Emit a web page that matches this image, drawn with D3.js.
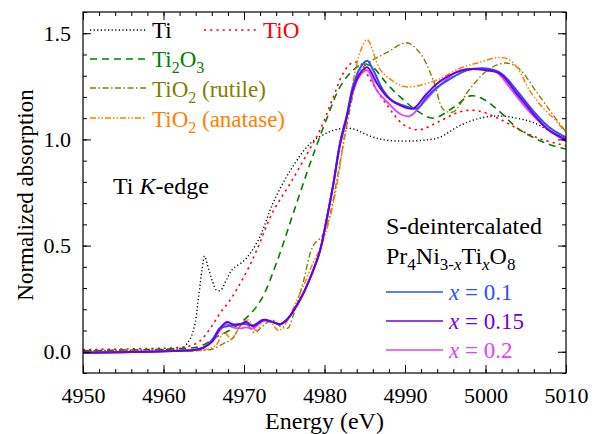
<!DOCTYPE html>
<html>
<head>
<meta charset="utf-8">
<script src="https://cdn.jsdelivr.net/npm/d3@7"></script>
<style>
body{margin:0;background:#fff}
</style>
</head>
<body>
<div id="chart"></div>
<script>
var w = 594, h = 434
var m = {l:83, r:28, t:12, b:61}
var serif = "'Liberation Serif', 'Times New Roman', Tinos, 'Nimbus Roman', FreeSerif, 'Noto Serif', 'DejaVu Serif', serif"

// Ti metal
var tiE = [4950,4958,4961,4962.4,4963.3,4963.9,4964.3,4964.8,4965.1,4965.6,4966.1,4966.6,4967.1,4967.9,4968.6,4969.9,4970.7,4971.4,4972.2,4973.6,4975.7,4978.2,4980.3,4981.9,4983.5,4985.7,4988,4991.9,4994.3,4996.8,4999.3,5001.8,5003.9,5005.9,5008,5010]
var tiA = [0.005,0.008,0.012,0.02,0.06,0.13,0.24,0.39,0.45,0.39,0.33,0.29,0.29,0.345,0.39,0.425,0.46,0.50,0.56,0.70,0.85,0.98,1.03,1.05,1.05,1.015,0.995,0.995,1.01,1.065,1.10,1.11,1.10,1.08,1.04,1.0]
// TiO
var tioE = [4950,4958,4962,4963.5,4964.5,4965.8,4967,4968.3,4969.5,4970.5,4971.6,4973.6,4975.7,4977.8,4979.4,4981.1,4982.3,4983.4,4984.4,4985.7,4987.8,4989.8,4991.7,4994,4996.8,4999,5001.8,5004.5,5007,5010]
var tioA = [0.01,0.015,0.02,0.03,0.05,0.11,0.18,0.245,0.32,0.39,0.48,0.66,0.79,0.93,1.04,1.20,1.31,1.36,1.36,1.28,1.16,1.07,1.045,1.08,1.13,1.135,1.095,1.04,1.0,0.97]
// Ti2O3
var t23E = [4950,4958,4962,4964.5,4966.6,4968.6,4970.7,4972.2,4974.1,4976.1,4978.2,4980.3,4981.9,4983.5,4984.8,4986,4987.8,4989.4,4991.5,4993.5,4996,4998.1,4999.7,5001.8,5003.9,5005.9,5008,5010]
var t23A = [0.005,0.01,0.015,0.025,0.07,0.11,0.175,0.25,0.425,0.65,0.885,1.10,1.245,1.325,1.355,1.34,1.26,1.20,1.135,1.10,1.15,1.205,1.19,1.13,1.055,1.01,0.975,0.955]
// TiO2 rutile
var rutE = [4950,4960,4965,4966,4967.5,4968.5,4969.5,4970.3,4971.3,4972.3,4973.5,4974.5,4975.4,4976.1,4977.3,4978.6,4979.8,4980.7,4981.9,4983.2,4984,4984.8,4986.3,4987.8,4990.2,4991.9,4993.5,4994.8,4996,4998.1,5000.4,5002.5,5004.1,5006.4,5008.4,5010]
var rutA = [0.0,0.003,0.008,0.012,0.04,0.06,0.12,0.13,0.09,0.12,0.15,0.12,0.11,0.17,0.32,0.50,0.55,0.65,0.885,1.15,1.28,1.34,1.38,1.41,1.455,1.405,1.28,1.14,1.13,1.24,1.33,1.36,1.335,1.22,1.115,1.035]
// TiO2 anatase
var anaE = [4950,4960,4965,4966.5,4967.5,4968.5,4969.5,4970.5,4971.5,4972.5,4973.5,4974.3,4975.3,4976.3,4977.5,4978.6,4979.6,4980.6,4981.6,4982.8,4983.7,4984.5,4985.3,4986.9,4988.3,4989.8,4991.3,4992.8,4994.3,4996.8,4999,5001.4,5002.7,5003.9,5005.5,5007.1,5008.7,5010]
var anaA = [0.0,0.003,0.008,0.03,0.09,0.06,0.12,0.15,0.10,0.15,0.13,0.10,0.14,0.22,0.32,0.42,0.50,0.62,0.80,1.10,1.30,1.42,1.47,1.33,1.28,1.25,1.25,1.265,1.285,1.335,1.36,1.385,1.38,1.34,1.23,1.15,1.09,1.03]
// samples x = 0.1, 0.15, 0.2
var s1E = [4950,4958,4962,4964,4965,4966.1,4967,4967.9,4968.8,4969.6,4970.4,4971.2,4972.3,4973.5,4974.5,4975.3,4976.1,4977.3,4978.4,4979.4,4980.3,4981.1,4981.9,4982.8,4983.5,4984.4,4985.3,4986,4987.3,4988.5,4989.8,4991.5,4992.7,4994,4995.6,4997.7,4999.7,5001.8,5003.9,5005.9,5008,5010]
var s1A = [-0.005,0.0,0.005,0.01,0.02,0.06,0.11,0.12,0.125,0.13,0.13,0.125,0.15,0.14,0.13,0.15,0.19,0.27,0.365,0.47,0.63,0.79,0.98,1.12,1.245,1.335,1.37,1.33,1.23,1.18,1.16,1.145,1.20,1.245,1.285,1.325,1.335,1.315,1.23,1.135,1.055,1.01]
var s2E = [4950,4958,4962,4964,4965,4966.1,4967,4967.9,4968.6,4969.5,4970.3,4971.1,4972.4,4973.6,4974.5,4975.3,4976.1,4977.3,4978.4,4979.4,4980.3,4981.1,4981.9,4982.8,4983.5,4984.4,4985.3,4986.5,4987.8,4989.4,4991,4992.7,4994.6,4997.7,5000.2,5001.8,5003.9,5006.4,5008,5010]
var s2A = [-0.005,0.0,0.005,0.01,0.02,0.05,0.11,0.14,0.13,0.13,0.14,0.12,0.15,0.14,0.13,0.15,0.19,0.27,0.365,0.47,0.63,0.79,0.97,1.11,1.23,1.31,1.34,1.265,1.20,1.16,1.145,1.215,1.28,1.33,1.325,1.31,1.215,1.10,1.04,1.0]
var s3E = [4950,4958,4962,4964,4965,4966.1,4967,4967.9,4968.6,4969.5,4970.3,4971.1,4972.4,4973.6,4974.5,4975.3,4976.1,4977.3,4978.4,4979.4,4980.3,4981.1,4981.9,4982.8,4983.5,4984.4,4985.3,4986.5,4987.8,4989.4,4990.6,4992.2,4994.6,4996.8,4999.7,5001.4,5003,5005,5007.5,5010]
var s3A = [-0.005,0.0,0.005,0.01,0.02,0.05,0.1,0.13,0.115,0.11,0.115,0.11,0.145,0.14,0.13,0.15,0.19,0.27,0.365,0.47,0.63,0.79,0.97,1.11,1.22,1.30,1.325,1.23,1.175,1.12,1.11,1.17,1.265,1.325,1.33,1.315,1.245,1.15,1.055,0.99]

var refNames = ["Ti","TiO","Ti2O3","TiO2 (rutile)","TiO2 (anatase)"]
var sampleNames = ["x = 0.1","x = 0.15","x = 0.2"]

var series = [
  {E:tiE, A:tiA, color:"#000000", dash:"1.2,2.4", width:1.4},
  {E:t23E, A:t23A, color:"#008000", dash:"7,5", width:1.6},
  {E:tioE, A:tioA, color:"#ff0000", dash:"2.2,4", width:1.6},
  {E:rutE, A:rutA, color:"#808000", dash:"6,2.5,1.5,2.5", width:1.4},
  {E:anaE, A:anaA, color:"#ff8000", dash:"6,2,1.5,2,1.5,2", width:1.5},
  {E:s3E, A:s3A, color:"#e040ff", dash:null, width:1.8},
  {E:s1E, A:s1A, color:"#2850ff", dash:null, width:2},
  {E:s2E, A:s2A, color:"#7000e0", dash:null, width:2}
]

var svg = d3.select("#chart").append("svg").attr("width", w).attr("height", h)
  .attr("font-family", serif)

var x = d3.scaleLinear().domain([4950, 5010]).range([m.l, w - m.r])
var y = d3.scaleLinear().domain([-0.1, 1.6]).range([h - m.b, m.t])

svg.append("clipPath").attr("id","clip").append("rect")
  .attr("x", m.l).attr("y", m.t).attr("width", w - m.l - m.r).attr("height", h - m.t - m.b)

var line = d3.line()
  .x(function(d){return x(d[0])})
  .y(function(d){return y(d[1])})
  .curve(d3.curveCatmullRom)

var plot = svg.append("g").attr("clip-path","url(#clip)")
series.forEach(function(s){
  var pts = s.E.map(function(e,i){return [e, s.A[i]]})
  plot.append("path").datum(pts)
    .attr("d", line)
    .attr("fill","none")
    .attr("stroke", s.color)
    .attr("stroke-width", s.width)
    .attr("stroke-dasharray", s.dash)
})

// frame and ticks
var fs = 22, lfs = 23
function tickAxis(axis, tr){
  var g = svg.append("g").attr("transform", tr).call(axis)
  g.attr("font-family", serif).attr("font-size", fs)
  g.select(".domain").remove()
  g.selectAll("line").attr("stroke","#000").attr("stroke-width",1)
  g.selectAll("text").attr("fill","#000")
  return g
}
var xMinor = d3.range(4950, 5011, 2)
var yMinor = d3.range(-0.1, 1.61, 0.1).map(function(v){return Math.round(v*10)/10})

tickAxis(d3.axisBottom(x).tickValues(xMinor).tickSize(-4).tickFormat(""), "translate(0,"+(h-m.b)+")")
tickAxis(d3.axisBottom(x).tickValues(d3.range(4950,5011,10)).tickSize(-8).tickPadding(14).tickFormat(d3.format("d")), "translate(0,"+(h-m.b)+")")
tickAxis(d3.axisTop(x).tickValues(xMinor).tickSize(-4).tickFormat(""), "translate(0,"+m.t+")")
tickAxis(d3.axisTop(x).tickValues(d3.range(4950,5011,10)).tickSize(-8).tickFormat(""), "translate(0,"+m.t+")")
tickAxis(d3.axisLeft(y).tickValues(yMinor).tickSize(-4).tickFormat(""), "translate("+m.l+",0)")
tickAxis(d3.axisLeft(y).tickValues([0,0.5,1,1.5]).tickSize(-8).tickPadding(12).tickFormat(d3.format(".1f")), "translate("+m.l+",0)")
tickAxis(d3.axisRight(y).tickValues(yMinor).tickSize(-4).tickFormat(""), "translate("+(w-m.r)+",0)")
tickAxis(d3.axisRight(y).tickValues([0,0.5,1,1.5]).tickSize(-8).tickFormat(""), "translate("+(w-m.r)+",0)")

svg.append("rect").attr("x", m.l).attr("y", m.t).attr("width", w-m.l-m.r).attr("height", h-m.t-m.b)
  .attr("fill","none").attr("stroke","#000").attr("stroke-width",1.2)

svg.append("text").attr("x", (m.l + w - m.r)/2).attr("y", 429).attr("text-anchor","middle")
  .attr("font-size", 24).text("Energy (eV)")
svg.append("text").attr("transform","translate(33,195) rotate(-90)")
  .attr("text-anchor","middle").attr("font-size", 23).text("Normalized absorption")

// legend (references)
function legLine(x1, x2, yy, s){
  svg.append("line").attr("x1",x1).attr("x2",x2).attr("y1",yy).attr("y2",yy)
    .attr("stroke", s.color).attr("stroke-width", s.width).attr("stroke-dasharray", s.dash)
}
function subText(xx, yy, color, parts, size){
  size = size || lfs
  var t = svg.append("text").attr("x",xx).attr("y",yy).attr("fill",color).attr("font-size",size)
  var shift = 0
  parts.forEach(function(p){
    var target = p.sub ? Math.round(size*0.25) : 0
    var ts = t.append("tspan").attr("dy", target - shift).text(p.t)
    if(p.sub) ts.attr("font-size",Math.round(size*0.7))
    if(p.it) ts.attr("font-style","italic")
    shift = target
  })
  return t
}
legLine(90, 146, 30, series[0]); subText(152, 38, "#000", [{t:refNames[0]}])
legLine(204, 258, 30, series[2]); subText(263, 38, "#ff0000", [{t:refNames[1]}])
legLine(90, 146, 59, series[1]); subText(152, 67, "#008000", [{t:"Ti"},{t:"2",sub:1},{t:"O"},{t:"3",sub:1}])
legLine(90, 146, 88, series[3]); subText(152, 97, "#808000", [{t:"TiO"},{t:"2",sub:1},{t:" (rutile)"}])
legLine(90, 146, 118, series[4]); subText(152, 127, "#ff8000", [{t:"TiO"},{t:"2",sub:1},{t:" (anatase)"}])

subText(113, 194, "#000", [{t:"Ti "},{t:"K",it:1},{t:"-edge"}], 24)

// sample legend
subText(386, 234, "#000", [{t:"S-deintercalated"}], 24)
subText(386, 264, "#000", [{t:"Pr"},{t:"4",sub:1},{t:"Ni"},{t:"3-",sub:1},{t:"x",sub:1,it:1},{t:"Ti"},{t:"x",sub:1,it:1},{t:"O"},{t:"8",sub:1}], 24)
var sampleSeries = [series[6], series[7], series[5]]
sampleSeries.forEach(function(s, i){
  var yy = 292 + i*29
  svg.append("line").attr("x1",386).attr("x2",443).attr("y1",yy).attr("y2",yy)
    .attr("stroke", s.color).attr("stroke-width", 1.6)
  var parts = sampleNames[i].split(" ")
  subText(449, yy + 8, s.color, [{t:"x",it:1},{t:" = " + parts[2]}])
})
</script>
</body>
</html>
